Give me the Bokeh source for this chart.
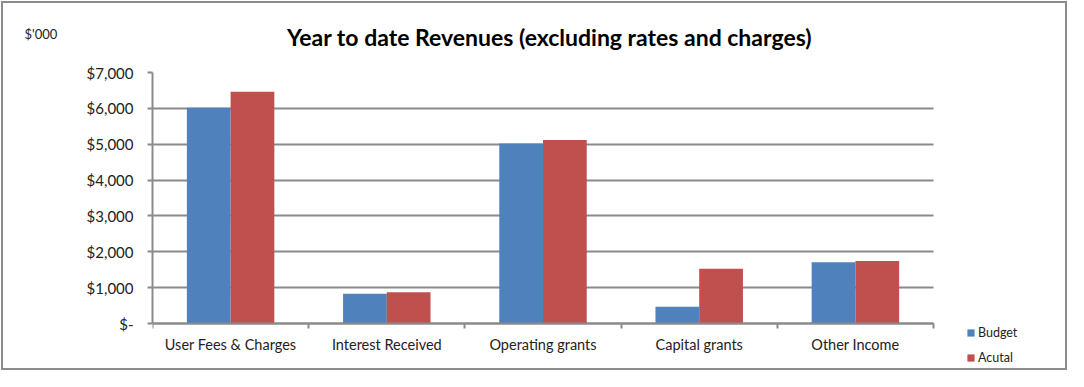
import numpy as np
from bokeh.plotting import figure
from bokeh.models import (Range1d, FixedTicker, ColumnDataSource, Legend, LegendItem, Label,
                          InlineStyleSheet)
from bokeh.embed import file_html
from bokeh.resources import INLINE

categories = ["User Fees & Charges", "Interest Received", "Operating grants", "Capital grants", "Other Income"]
budget = [6020, 830, 5020, 470, 1710]
actual = [6460, 870, 5120, 1530, 1740]
series_names = ["Budget", "Acutal"]
y_ticks = [0, 1000, 2000, 3000, 4000, 5000, 6000, 7000]
y_tick_labels = ["$-", "$1,000", "$2,000", "$3,000", "$4,000", "$5,000", "$6,000", "$7,000"]
title_text = "Year to date Revenues (excluding rates and charges)"
unit_text = "$'000"

FONT = "Lato"
GRID = "#8a8a8a"
BLUE = "#4F81BD"
RED = "#C0504D"
TXT = "#222222"

# layout (pixels)
W, H = 1068, 371
LEFT, TOP = 152, 72          # frame left / top
AXIS_RIGHT, AXIS_Y = 933, 323  # where the category axis ends / sits

n = len(categories)
ymax = y_ticks[-1]
centers = np.arange(n) + 0.5
px_per_cat = (AXIS_RIGHT - LEFT) / n
px_per_unit = (AXIS_Y - TOP) / ymax
x_end = (W - LEFT) / px_per_cat
y_start = -(H - AXIS_Y) / px_per_unit

p = figure(width=W, height=H, output_backend="svg", toolbar_location=None,
           x_range=Range1d(0, x_end), y_range=Range1d(y_start, ymax),
           min_border_left=LEFT, min_border_right=0, min_border_top=TOP, min_border_bottom=0)
p.outline_line_color = None
p.background_fill_color = None
p.border_fill_color = None
p.stylesheets = [InlineStyleSheet(css=":host { outline: 2px solid #8c8c8c; outline-offset: -3px; background: white; }")]

src = ColumnDataSource(dict(xb=centers - 0.14, xa=centers + 0.14, budget=budget, actual=actual))
rb = p.vbar(x="xb", top="budget", width=0.28, source=src, fill_color=BLUE, line_color=None)
ra = p.vbar(x="xa", top="actual", width=0.28, source=src, fill_color=RED, line_color=None)

# x axis: drawn at y=0, labels at category centres, tick marks between categories
xa = p.xaxis[0]
xa.fixed_location = 0
xa.bounds = (0, n)
xa.ticker = FixedTicker(ticks=list(centers), minor_ticks=list(range(n + 1)))
xa.major_label_overrides = {float(c): lab for c, lab in zip(centers, categories)}
xa.major_tick_out = 0
xa.major_tick_in = 0
xa.minor_tick_out = 5
xa.minor_tick_in = 0
xa.minor_tick_line_color = GRID
xa.minor_tick_line_width = 2
xa.axis_line_color = GRID
xa.axis_line_width = 2
xa.major_label_text_font = FONT
xa.major_label_text_font_size = "14.5px"
xa.major_label_text_color = TXT
xa.major_label_standoff = 7
p.xgrid.visible = False

# y axis
ya = p.yaxis[0]
ya.bounds = (0, ymax)
ya.ticker = FixedTicker(ticks=y_ticks)
ya.major_label_overrides = {t: lab for t, lab in zip(y_ticks, y_tick_labels)}
ya.major_tick_out = 5
ya.major_tick_in = 0
ya.major_tick_line_color = GRID
ya.major_tick_line_width = 2
ya.minor_tick_line_color = None
ya.axis_line_color = GRID
ya.axis_line_width = 2
ya.major_label_text_font = FONT
ya.major_label_text_font_size = "15px"
ya.major_label_text_color = TXT
ya.major_label_standoff = 14

if "cross_bounds" in p.ygrid[0].properties():
    p.ygrid.cross_bounds = (0, n)
    p.ygrid.grid_line_color = GRID
    p.ygrid.grid_line_width = 2
else:
    p.ygrid.visible = False
    gy = [t for t in y_ticks if t > 0]
    p.segment(x0=[0] * len(gy), x1=[n] * len(gy), y0=gy, y1=gy, line_color=GRID, line_width=2, level="underlay")

# title (above panel) and unit label (left panel)
p.add_layout(Label(x=397, y=36, x_units="screen", y_units="screen", text=title_text,
                   text_font=FONT, text_font_size="23px", text_font_style="bold",
                   text_align="center", text_baseline="middle", text_color="#000000"), "above")
p.add_layout(Label(x=-26, y=338, x_units="screen", y_units="screen", text=unit_text,
                   text_font=FONT, text_font_size="13px",
                   text_align="left", text_baseline="middle", text_color=TXT), "left")

legend = Legend(items=[LegendItem(label=series_names[0], renderers=[rb]),
                       LegendItem(label=series_names[1], renderers=[ra])],
                location=(814, 6), orientation="vertical",
                glyph_width=9, glyph_height=9, label_text_font=FONT,
                label_text_font_size="12.5px", label_text_color=TXT,
                label_standoff=3, spacing=10, padding=0, margin=0,
                border_line_color=None, background_fill_alpha=0)
p.add_layout(legend, "center")

open("out.html", "w").write(file_html(p, INLINE))
